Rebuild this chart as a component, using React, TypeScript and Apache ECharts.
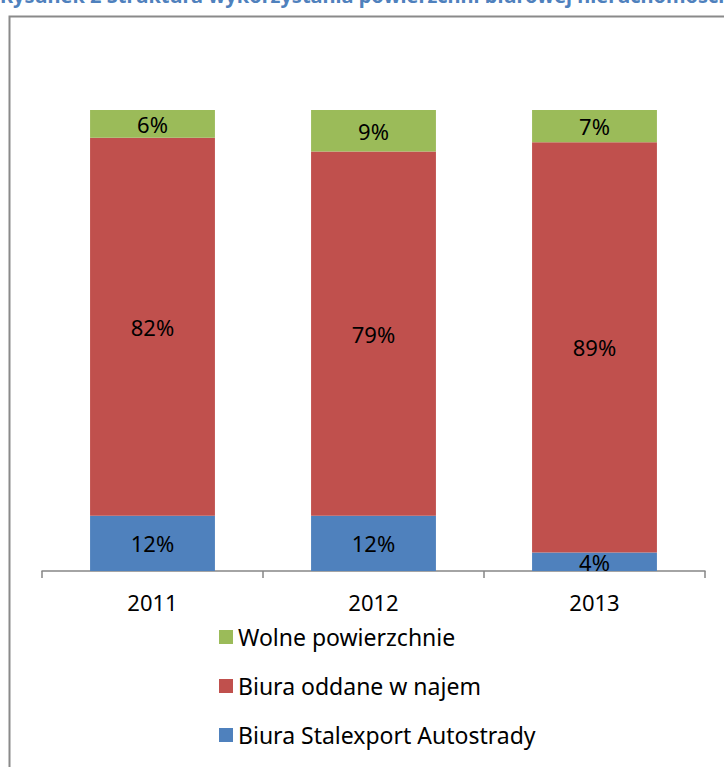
import React, { useEffect, useRef } from "react";
import * as echarts from "echarts";

const categories = ["2011", "2012", "2013"];
const stalexport = [12, 12, 4];
const oddane = [82, 79, 89];
const wolne = [6, 9, 7];
const seriesNames = ["Biura Stalexport Autostrady", "Biura oddane w najem", "Wolne powierzchnie"];
const titleText = "Rysunek 2 Struktura wykorzystania powierzchni biurowej nieruchomości";

const FONT = "Noto Sans";

export default function App() {
  const ref = useRef<HTMLDivElement>(null);
  useEffect(() => {
    document.body.style.margin = "0";
    const chart = echarts.init(ref.current!, null, { renderer: "svg" });
    const label = {
      show: true,
      position: "inside",
      color: "#000",
      fontSize: 22,
      fontFamily: FONT,
      formatter: (p: any) => p.value + "%",
    };
    const mk = (name: string, data: number[], color: string) => ({
      name,
      type: "bar",
      stack: "s",
      data,
      barWidth: "56.5%",
      itemStyle: { color },
      label,
    });
    chart.setOption({
      animation: false,
      backgroundColor: "#fff",
      grid: { left: 42, right: 19, top: 110, bottom: 196 },
      xAxis: {
        type: "category",
        data: categories,
        axisLine: { show: true, lineStyle: { color: "#868686", width: 1.5 } },
        axisTick: { show: true, length: 7, alignWithLabel: false, lineStyle: { color: "#868686", width: 1.5 } },
        axisLabel: { color: "#000", fontSize: 22, fontFamily: FONT, margin: 20 },
      },
      yAxis: { type: "value", min: 0, max: 100, show: false },
      legend: {
        orient: "vertical",
        left: 214,
        top: 620,
        itemWidth: 14,
        itemHeight: 14,
        itemGap: 25,
        icon: "rect",
        data: [seriesNames[2], seriesNames[1], seriesNames[0]],
        textStyle: { color: "#000", fontSize: 23, lineHeight: 24, fontFamily: FONT, padding: [0, 0, 0, 0] },
      },
      graphic: [
        {
          type: "rect",
          shape: { x: 9.5, y: 16.5, width: 760, height: 800 },
          style: { fill: "none", stroke: "#8a8a8a", lineWidth: 2 },
          silent: true,
        },
        {
          type: "text",
          x: 0,
          y: -5,
          style: {
            text: titleText,
            fill: "#4f81bd",
            font: "bold 20px 'Noto Sans'",
            textVerticalAlign: "middle",
          },
          silent: true,
        },
      ],
      series: [
        mk(seriesNames[0], stalexport, "#4f81bd"),
        mk(seriesNames[1], oddane, "#c0504d"),
        mk(seriesNames[2], wolne, "#9bbb59"),
      ],
    });
    return () => chart.dispose();
  }, []);
  return <div ref={ref} style={{ position: "absolute", left: 0, top: 0, width: 724, height: 767 }} />;
}
